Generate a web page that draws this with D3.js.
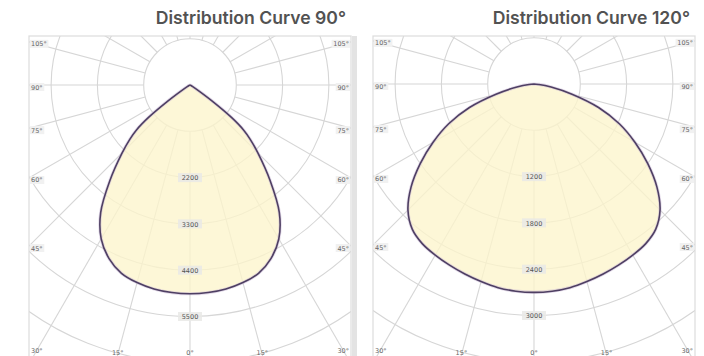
<!DOCTYPE html>
<html>
<head>
<meta charset="utf-8">
<script src="https://cdn.jsdelivr.net/npm/d3@7"></script>
<style>
  html, body { margin: 0; padding: 0; background: #ffffff; }
  svg { display: block; }
</style>
</head>
<body>
<svg id="chart" width="704" height="356"></svg>
<script>
// Polar angles (degrees from the nadir) and luminous intensity (cd), symmetric about the nadir
const angles90     = [0, 5, 10, 15, 20, 25, 30, 35, 40, 45, 48, 50, 52, 54, 56, 60, 65, 70, 80, 90];
const intensity90  = [4960, 4950, 4920, 4860, 4760, 4550, 4220, 3700, 2960, 2280, 1920, 1660, 1250, 680, 280, 75, 25, 8, 2, 0];

const angles120    = [0, 5, 10, 15, 20, 25, 30, 35, 40, 45, 50, 55, 60, 65, 70, 75, 80, 85, 90];
const intensity120 = [2700, 2695, 2680, 2650, 2620, 2590, 2560, 2525, 2455, 2310, 2080, 1800, 1510, 1220, 890, 510, 225, 65, 0];

// Ring values for each diagram
const rings90  = [1100, 2200, 3300, 4400, 5500, 6600, 7700, 8800];
const rings120 = [600, 1200, 1800, 2400, 3000, 3600, 4200, 4800];

// Ring values that carry a label
const ringLabels90  = [2200, 3300, 4400, 5500];
const ringLabels120 = [1200, 1800, 2400, 3000];

// Spoke angles (from nadir) and the ones labelled at the frame edge
const spokes = [0, 15, 30, 45, 60, 75, 90, 105, 120, 135, 150, 165, 180];
const sideLabels = [105, 90, 75, 60, 45];
const bottomLabels = [30, 15, 0];

const titles = ["Distribution Curve 90°", "Distribution Curve 120°"];

const svg = d3.select("#chart");

const panels = [
  { title: titles[0], angles: angles90, data: intensity90, rings: rings90, ringLabels: ringLabels90,
    frame: { x: 29,  y: 36, w: 322, h: 330 }, cx: 190, cy: 85 },
  { title: titles[1], angles: angles120, data: intensity120, rings: rings120, ringLabels: ringLabels120,
    frame: { x: 373, y: 36, w: 322, h: 330 }, cx: 534, cy: 84 }
];

const ringStep = 46.3;
const gridColor = "#d6d6d6";

panels.forEach((p, i) => {
  const f = p.frame;
  const g = svg.append("g");

  // radius scale: value -> pixels
  const r = d3.scaleLinear()
    .domain([0, p.rings[0]])
    .range([0, ringStep]);

  const clipId = "clip" + i;
  svg.append("clipPath").attr("id", clipId)
    .append("rect").attr("x", f.x).attr("y", f.y).attr("width", f.w).attr("height", f.h);

  // title
  svg.append("text")
    .attr("x", f.x + f.w - 5)
    .attr("y", 24)
    .attr("text-anchor", "end")
    .attr("font-family", "Inter, 'Open Sans', sans-serif")
    .attr("font-weight", 600)
    .attr("font-size", 17.6)
    .attr("fill", "#525252")
    .text(p.title);

  // light grey strip along the right side of the left frame
  if (i === 0) {
    svg.append("rect").attr("x", f.x + f.w + 1).attr("y", f.y).attr("width", 5).attr("height", 356 - f.y)
      .attr("fill", "#e3e3e3");
  }

  const plot = g.append("g").attr("clip-path", `url(#${clipId})`);
  const center = plot.append("g").attr("transform", `translate(${p.cx},${p.cy})`);

  // concentric rings
  center.selectAll("circle.ring")
    .data(p.rings)
    .join("circle")
    .attr("class", "ring")
    .attr("r", d => r(d))
    .attr("fill", "none")
    .attr("stroke", gridColor)
    .attr("stroke-width", 1.1);

  // spokes from the first ring outwards
  const toXY = (deg, rad) => {
    const a = deg * Math.PI / 180;
    return [rad * Math.sin(a), rad * Math.cos(a)];
  };
  const spokeAll = spokes.flatMap(a => a === 0 || a === 180 ? [a] : [a, -a]);
  center.selectAll("line.spoke")
    .data(spokeAll)
    .join("line")
    .attr("class", "spoke")
    .attr("x1", d => toXY(d, r(p.rings[0]))[0])
    .attr("y1", d => toXY(d, r(p.rings[0]))[1])
    .attr("x2", d => toXY(d, 900)[0])
    .attr("y2", d => toXY(d, 900)[1])
    .attr("stroke", gridColor)
    .attr("stroke-width", 1.1);

  // the intensity curve, mirrored about the nadir
  const pts = [];
  for (let k = p.angles.length - 1; k > 0; k--) pts.push([-p.angles[k], p.data[k]]);
  for (let k = 0; k < p.angles.length; k++) pts.push([p.angles[k], p.data[k]]);

  const radial = d3.lineRadial()
    .angle(d => Math.PI - d[0] * Math.PI / 180)
    .radius(d => r(d[1]))
    .curve(d3.curveCatmullRomClosed.alpha(0.5));

  center.append("path")
    .attr("d", radial(pts))
    .attr("fill", "#fcf5cc")
    .attr("fill-opacity", 0.78)
    .attr("stroke", "none");

  center.append("path")
    .attr("d", radial(pts))
    .attr("fill", "none")
    .attr("stroke", "#c9b7d6")
    .attr("stroke-width", 3.2)
    .attr("stroke-opacity", 0.5);

  center.append("path")
    .attr("d", radial(pts))
    .attr("fill", "none")
    .attr("stroke", "#4e3f63")
    .attr("stroke-width", 1.6);

  // frame
  g.append("rect")
    .attr("x", f.x).attr("y", f.y).attr("width", f.w).attr("height", f.h)
    .attr("fill", "none").attr("stroke", "#dcdcdc").attr("stroke-width", 1.2);

  // ring value labels along the nadir
  const lab = plot.append("g").attr("font-family", "'DejaVu Sans', sans-serif")
    .attr("font-size", 6.5).attr("fill", "#555");
  p.ringLabels.forEach(v => {
    const y = p.cy + r(v) + 0.5;
    lab.append("rect")
      .attr("x", p.cx - 12).attr("y", y - 5).attr("width", 24).attr("height", 9)
      .attr("fill", "#e9e9e6").attr("fill-opacity", 0.85);
    lab.append("text")
      .attr("x", p.cx).attr("y", y + 2.3)
      .attr("text-anchor", "middle")
      .text(v);
  });

  // angle labels where the spokes meet the frame sides
  const ang = plot.append("g").attr("font-family", "'DejaVu Sans', sans-serif")
    .attr("font-size", 6.5).attr("fill", "#666");
  sideLabels.forEach(a => {
    const t = (a - 90) * Math.PI / 180;           // elevation above the horizontal
    const y = p.cy - Math.tan(t) * (p.cx - f.x) + 2;
    const lbl = a + "°";
    const tw = lbl.length * 4.1;
    // left side
    ang.append("rect").attr("x", f.x + 1).attr("y", y - 4).attr("width", tw + 2).attr("height", 8)
      .attr("fill", "#f1f1f1");
    ang.append("text").attr("x", f.x + 2).attr("y", y + 2.5).text(lbl);
    // right side
    ang.append("rect").attr("x", f.x + f.w - tw - 3).attr("y", y - 4).attr("width", tw + 2).attr("height", 8)
      .attr("fill", "#f1f1f1");
    ang.append("text").attr("x", f.x + f.w - 2).attr("y", y + 2.5).attr("text-anchor", "end").text(lbl);
  });

  // labels where spokes meet the bottom edge
  const yb = 355;
  bottomLabels.forEach(a => {
    const dx = Math.tan(a * Math.PI / 180) * (yb - p.cy);
    const xs = a === 0 ? [p.cx] : [p.cx - dx, p.cx + dx];
    xs.forEach((x, j) => {
      const edge = a === 30;
      const anchor = edge ? (j === 0 ? "start" : "end") : "middle";
      const xx = edge ? (j === 0 ? f.x + 2 : f.x + f.w - 2) : x;
      ang.append("text").attr("x", xx).attr("y", edge ? 353 : yb)
        .attr("text-anchor", anchor).text(a + "°");
    });
  });
});
</script>
</body>
</html>
